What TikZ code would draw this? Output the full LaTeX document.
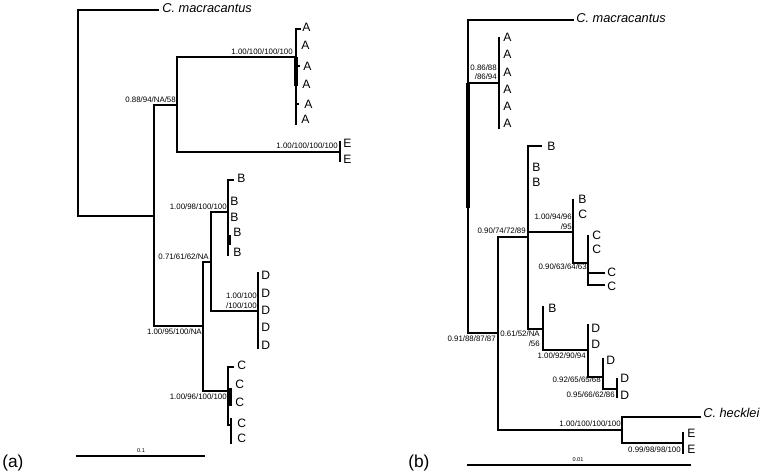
\documentclass[tikz,border=0pt]{standalone}
\usepackage{fontspec}
\setmainfont{Liberation Sans}
\begin{document}
\begin{tikzpicture}[x=0.75pt,y=-0.75pt,
  br/.style={line width=1.15pt, line cap=rect},
  thk/.style={line width=2.3pt},
  nl/.style={font=\fontsize{5.9}{6}\selectfont, inner sep=0pt, anchor=east},
  lf/.style={font=\fontsize{9.1}{10}\selectfont, inner sep=0pt, anchor=west},
  sp/.style={font=\fontsize{9.6}{10}\selectfont\itshape, inner sep=0pt, anchor=west},
  sc/.style={font=\fontsize{4.2}{5}\selectfont, inner sep=0pt},
  pl/.style={font=\fontsize{13}{15}\selectfont, inner sep=0pt, anchor=west}]
\useasboundingbox (0,0) rectangle (764,475);

% ================= panel (a) =================
\draw[br] (158,10) -- (78,10) -- (78,216) -- (154,216);
\draw[br] (177,105) -- (154,105) -- (154,326) -- (203,326);
\draw[br] (295,57) -- (177,57) -- (177,152) -- (340,152);
\draw[br] (296,29) -- (296,124);
\draw[br] (296,29) -- (300,29);
\draw[br] (296,66) -- (299,66);
\draw[br] (296,104) -- (298,104);
\draw[thk] (296,57) -- (296,86);
\draw[br] (340,142) -- (340,161);
\draw[br] (211,262) -- (203,262) -- (203,391) -- (228,391);
\draw[br] (228,212) -- (211,212) -- (211,311) -- (258,311);
\draw[br] (233,180) -- (228,180) -- (228,255);
\draw[thk] (229,235) -- (229,245);
\draw[br] (258,273) -- (258,348);
\draw[br] (233,367) -- (228,367) -- (228,425) -- (231,425);
\draw[thk] (230,388) -- (230,406);
\draw[br] (231,419) -- (231,443);

\node[sp] (amac) at (162,8) {C. macracantus};
\node[lf] (aA1) at (302,27) {A};
\node[lf] (aA2) at (301,45) {A};
\node[lf] (aA3) at (303,66) {A};
\node[lf] (aA4) at (302,84) {A};
\node[lf] (aA5) at (304,104) {A};
\node[lf] (aA6) at (301,119) {A};
\node[lf] (aE1) at (343,143) {E};
\node[lf] (aE2) at (343,159) {E};
\node[lf] (aB1) at (237,178) {B};
\node[lf] (aB2) at (230,201) {B};
\node[lf] (aB3) at (230,217) {B};
\node[lf] (aB4) at (233,232) {B};
\node[lf] (aB5) at (233,252) {B};
\node[lf] (aD1) at (261,275) {D};
\node[lf] (aD2) at (261,293) {D};
\node[lf] (aD3) at (261,310) {D};
\node[lf] (aD4) at (261,327) {D};
\node[lf] (aD5) at (261,345) {D};
\node[lf] (aC1) at (237,365) {C};
\node[lf] (aC2) at (235,384) {C};
\node[lf] (aC3) at (235,402) {C};
\node[lf] (aC4) at (237,423) {C};
\node[lf] (aC5) at (237,438) {C};

\node[nl] (as1) at (293,52) {1.00/100/100/100};
\node[nl] (as2) at (338,146) {1.00/100/100/100};
\node[nl] (as3) at (176,100) {0.88/94/NA/58};
\node[nl] (as4) at (227,207) {1.00/98/100/100};
\node[nl] (as5) at (209,257) {0.71/61/62/NA};
\node[nl] (as6) at (257,296) {1.00/100};
\node[nl] (as7) at (257,306) {/100/100};
\node[nl] (as8) at (202,332) {1.00/95/100/NA};
\node[nl] (as9) at (227,397) {1.00/96/100/100};

\coordinate (asb1) at (77,456);
\coordinate (asb2) at (204,456);
\draw[br] (asb1) -- (asb2);
\node[sc] (asbl) at (141,451) {0.1};
\node[pl] (alab) at (2,463) {(a)};

% ================= panel (b) =================
\draw[br] (573,20) -- (468,20) -- (468,333) -- (498,333);
\draw[thk] (468,83) -- (468,208);
\draw[br] (468,83) -- (499,83);
\draw[br] (499,38) -- (499,128);
\draw[br] (528,237) -- (498,237) -- (498,430) -- (622,430);
\draw[br] (541,146) -- (528,146) -- (528,329) -- (543,329);
\draw[br] (528,232) -- (573,232);
\draw[br] (573,200) -- (573,263) -- (588,263);
\draw[br] (588,236) -- (588,285) -- (604,285);
\draw[br] (588,273) -- (604,273);
\draw[br] (543,307) -- (543,350) -- (588,350);
\draw[br] (588,325) -- (588,377) -- (603,377);
\draw[br] (603,359) -- (603,389) -- (617,389);
\draw[br] (617,379) -- (617,397);
\draw[br] (700,417) -- (622,417) -- (622,443) -- (683,443);
\draw[br] (683,433) -- (683,453);

\node[sp] (bmac) at (576,18) {C. macracantus};
\node[sp] (bhec) at (703,413) {C. hecklei};
\node[lf] (bA1) at (503,37) {A};
\node[lf] (bA2) at (503,54) {A};
\node[lf] (bA3) at (503,72) {A};
\node[lf] (bA4) at (503,89) {A};
\node[lf] (bA5) at (503,106) {A};
\node[lf] (bA6) at (503,123) {A};
\node[lf] (bB1) at (547,146) {B};
\node[lf] (bB2) at (532,167) {B};
\node[lf] (bB3) at (532,182) {B};
\node[lf] (bB4) at (578,199) {B};
\node[lf] (bC1) at (578,214) {C};
\node[lf] (bC2) at (592,235) {C};
\node[lf] (bC3) at (592,249) {C};
\node[lf] (bC4) at (607,272) {C};
\node[lf] (bC5) at (607,286) {C};
\node[lf] (bB5) at (548,308) {B};
\node[lf] (bD1) at (591,328) {D};
\node[lf] (bD2) at (591,344) {D};
\node[lf] (bD3) at (606,360) {D};
\node[lf] (bD4) at (620,378) {D};
\node[lf] (bD5) at (620,395) {D};
\node[lf] (bE1) at (687,433) {E};
\node[lf] (bE2) at (687,449) {E};

\node[nl] (bs1) at (497,68) {0.86/88};
\node[nl] (bs2) at (497,77) {/86/94};
\node[nl] (bs3) at (496,339) {0.91/88/87/87};
\node[nl] (bs4) at (526,231) {0.90/74/72/89};
\node[nl] (bs5) at (572,217) {1.00/94/96};
\node[nl] (bs6) at (572,227) {/95};
\node[nl] (bs7) at (587,267) {0.90/63/64/63};
\node[nl] (bs8) at (540,334) {0.61/52/NA};
\node[nl] (bs9) at (540,344) {/56};
\node[nl] (bs10) at (586,356) {1.00/92/90/94};
\node[nl] (bs11) at (601,380) {0.92/65/65/68};
\node[nl] (bs12) at (615,395) {0.95/66/62/86};
\node[nl] (bs13) at (621,424) {1.00/100/100/100};
\node[nl] (bs14) at (681,450) {0.99/98/98/100};

\coordinate (bsb1) at (468,465);
\coordinate (bsb2) at (690,465);
\draw[br] (bsb1) -- (bsb2);
\node[sc] (bsbl) at (578,460) {0.01};
\node[pl] (blab) at (408,463) {(b)};
\end{tikzpicture}
\end{document}
